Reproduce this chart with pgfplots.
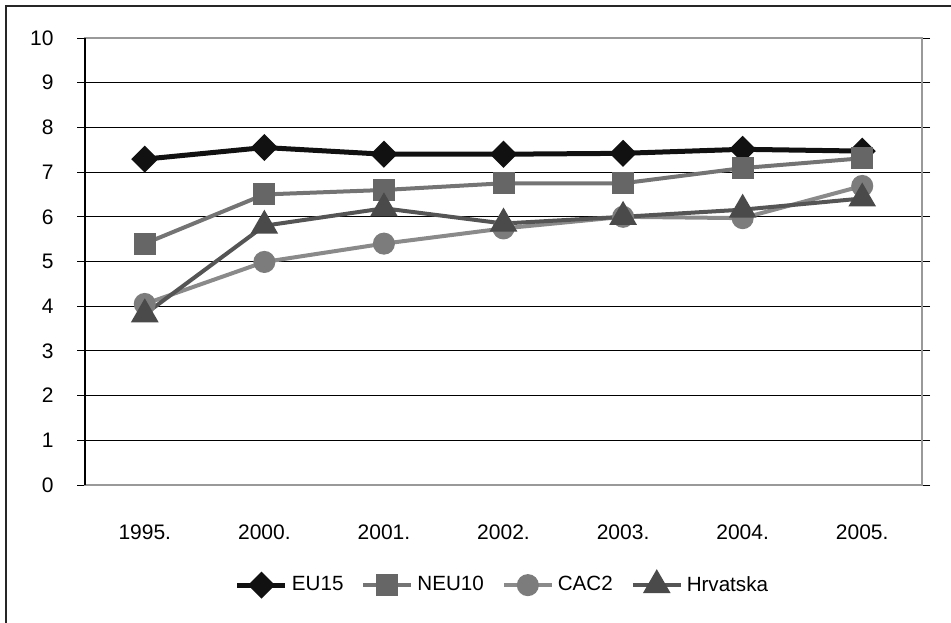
\documentclass[border=0pt]{standalone}
\usepackage{fontspec}
\setmainfont{Liberation Sans}
\usepackage{pgfplots}
\pgfplotsset{compat=1.18}
\definecolor{ceu}{HTML}{111111}
\definecolor{cneu}{HTML}{666666}
\definecolor{cneul}{HTML}{747474}
\definecolor{ccac}{HTML}{7C7C7C}
\definecolor{ccacl}{HTML}{8A8A8A}
\definecolor{chr}{HTML}{4A4A4A}
\definecolor{chrl}{HTML}{555555}
\begin{document}
\fontsize{10.5bp}{12bp}\selectfont
\begin{tikzpicture}
% outer frame (cropped at right and bottom like the reference)
\draw[line width=0.75bp, black!85] (3bp,-3bp) rectangle (490bp,-330bp);
\begin{axis}[
    at={(42.5bp,-242.5bp)}, anchor=south west,
    width=418.5bp, height=223.5bp, scale only axis,
    xmin=-0.5, xmax=6.5, ymin=0, ymax=10,
    xtick={0,...,6},
    xticklabels={1995.,2000.,2001.,2002.,2003.,2004.,2005.},
    minor xtick={-0.5,0.5,...,6.5},
    ytick={0,...,10},
    ymajorgrids,
    major grid style={black, line width=0.5bp},
    axis line style={gray!80, line width=0.6bp},
    tick align=outside,
    major tick length=4bp, minor tick length=4bp,
    xtick style={draw=none},
    minor x tick style={black, line width=0.5bp},
    ytick style={black, line width=0.5bp},
    /pgf/number format/assume math mode=true,
    yticklabel style={anchor=east, inner sep=0pt, xshift=-11.5bp},
    xticklabel style={anchor=base, inner sep=0pt, yshift=-23bp},
    legend style={at={(0.5,-0.224)}, anchor=center, draw=none, fill=none,
        legend columns=-1, font=\fontsize{10.3bp}{12bp}\selectfont,
        /tikz/every even column/.append style={column sep=7bp}},
    legend image code/.code={\draw[mark repeat=2, mark phase=2]
        plot coordinates {(0bp,0bp) (12bp,0bp) (24bp,0bp)};},
    clip=false,
]
\draw[black, line width=0.6bp] (rel axis cs:0,0) -- (rel axis cs:0,1);
\addplot[ceu, line width=2.5bp, mark=square*, mark size=3.54bp,
    mark options={rotate=45, solid, fill=ceu}]
    coordinates {(0,7.29) (1,7.55) (2,7.40) (3,7.40) (4,7.42) (5,7.51) (6,7.47)};
\addplot[cneul, line width=2bp, mark=square*, mark size=4.5bp,
    mark options={solid, draw=cneu, fill=cneu}]
    coordinates {(0,5.40) (1,6.50) (2,6.60) (3,6.75) (4,6.75) (5,7.09) (6,7.31)};
\addplot[ccacl, line width=2bp, mark=*, mark size=4.5bp,
    mark options={solid, draw=ccac, fill=ccac}]
    coordinates {(0,4.05) (1,4.99) (2,5.40) (3,5.74) (4,6.00) (5,5.97) (6,6.69)};
\addplot[chrl, line width=2bp, mark=triangle*, mark size=6bp,
    mark options={solid, draw=chr, fill=chr}]
    coordinates {(0,3.82) (1,5.80) (2,6.19) (3,5.85) (4,6.00) (5,6.16) (6,6.41)};
\legend{EU15, NEU10, CAC2, Hrvatska}
\end{axis}
\pgfresetboundingbox
\path[use as bounding box] (0bp,0bp) rectangle (475.5bp,-311.5bp);
\end{tikzpicture}
\end{document}
